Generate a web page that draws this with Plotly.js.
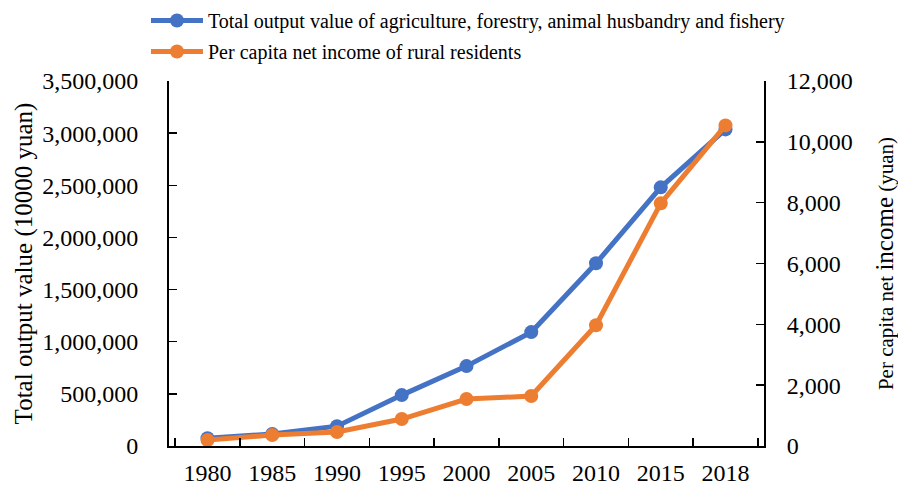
<!DOCTYPE html>
<html>
<head>
<meta charset="utf-8">
<script src="https://cdn.plot.ly/plotly-3.0.1.min.js"></script>
<style>html,body{margin:0;padding:0;background:#fff;}#chart{width:898px;height:485px;}</style>
</head>
<body>
<div id="chart"></div>
<script>
var years = ["1980", "1985", "1990", "1995", "2000", "2005", "2010", "2015", "2018"];
var totalOutput = [75000, 115000, 190000, 488000, 766000, 1092000, 1752000, 2480000, 3036000];
var perCapitaIncome = [195, 360, 460, 886, 1543, 1642, 3972, 7978, 10540];
var leftTicks = [0, 500000, 1000000, 1500000, 2000000, 2500000, 3000000, 3500000];
var rightTicks = [0, 2000, 4000, 6000, 8000, 10000, 12000];

var F = "'Liberation Serif', 'Times New Roman', serif";
var traces = [
  {x: years, y: totalOutput, name: "Total output value of agriculture, forestry, animal husbandry and fishery",
   type: "scatter", mode: "lines+markers", yaxis: "y", legendgroup: "a",
   line: {color: "#4472C4", width: 5}, marker: {color: "#4472C4", size: 14}},
  {x: years, y: perCapitaIncome, name: "Per capita net income of rural residents",
   type: "scatter", mode: "lines+markers", yaxis: "y2", legendgroup: "b",
   line: {color: "#ED7D31", width: 5}, marker: {color: "#ED7D31", size: 14}}
];
var layout = {
  width: 898, height: 485,
  margin: {l: 169, r: 134, t: 81, b: 39, autoexpand: false},
  paper_bgcolor: "#fff", plot_bgcolor: "#fff",
  font: {family: F, color: "#000", size: 24},
  showlegend: true,
  legend: {x: -0.0387, y: 1.219, xanchor: "left", yanchor: "top",
    font: {family: F, size: 20, color: "#000"}, tracegroupgap: 2,
    bgcolor: "rgba(0,0,0,0)", itemwidth: 52},
  xaxis: {type: "category", showline: true, linecolor: "#000", linewidth: 2,
    ticks: "inside", ticklen: 8, tickwidth: 1.5, tickcolor: "#000", tickson: "boundaries",
    showgrid: false, zeroline: false, tickfont: {family: F, size: 24}, ticklabelstandoff: 4,
    fixedrange: true},
  yaxis: {range: [0, 3500000], tickvals: leftTicks, ticktext: leftTicks.map(function(v){return v.toLocaleString("en-US");}),
    showline: true, linecolor: "#000", linewidth: 2, ticks: "inside", ticklen: 8, tickwidth: 1.5, tickcolor: "#000",
    showgrid: false, zeroline: false, tickfont: {family: F, size: 24}, ticklabelstandoff: 24,
    title: {text: "Total output value (10000 yuan)", font: {family: F, size: 25}, standoff: 2}},
  yaxis2: {range: [0, 12000], overlaying: "y", side: "right", tickvals: rightTicks,
    ticktext: rightTicks.map(function(v){return v.toLocaleString("en-US");}),
    showline: true, linecolor: "#000", linewidth: 2, ticks: "inside", ticklen: 8, tickwidth: 1.5, tickcolor: "#000",
    showgrid: false, zeroline: false, tickfont: {family: F, size: 24}, ticklabelstandoff: 16,
    title: {text: "<span style='font-size:21px'>Per capita net </span><span style='font-size:25px'>income</span><span style='font-size:21px'> (yuan)</span>",
      font: {family: F, size: 21}, standoff: 28}}
};
Plotly.newPlot("chart", traces, layout, {displayModeBar: false, staticPlot: true});
</script>
</body>
</html>
